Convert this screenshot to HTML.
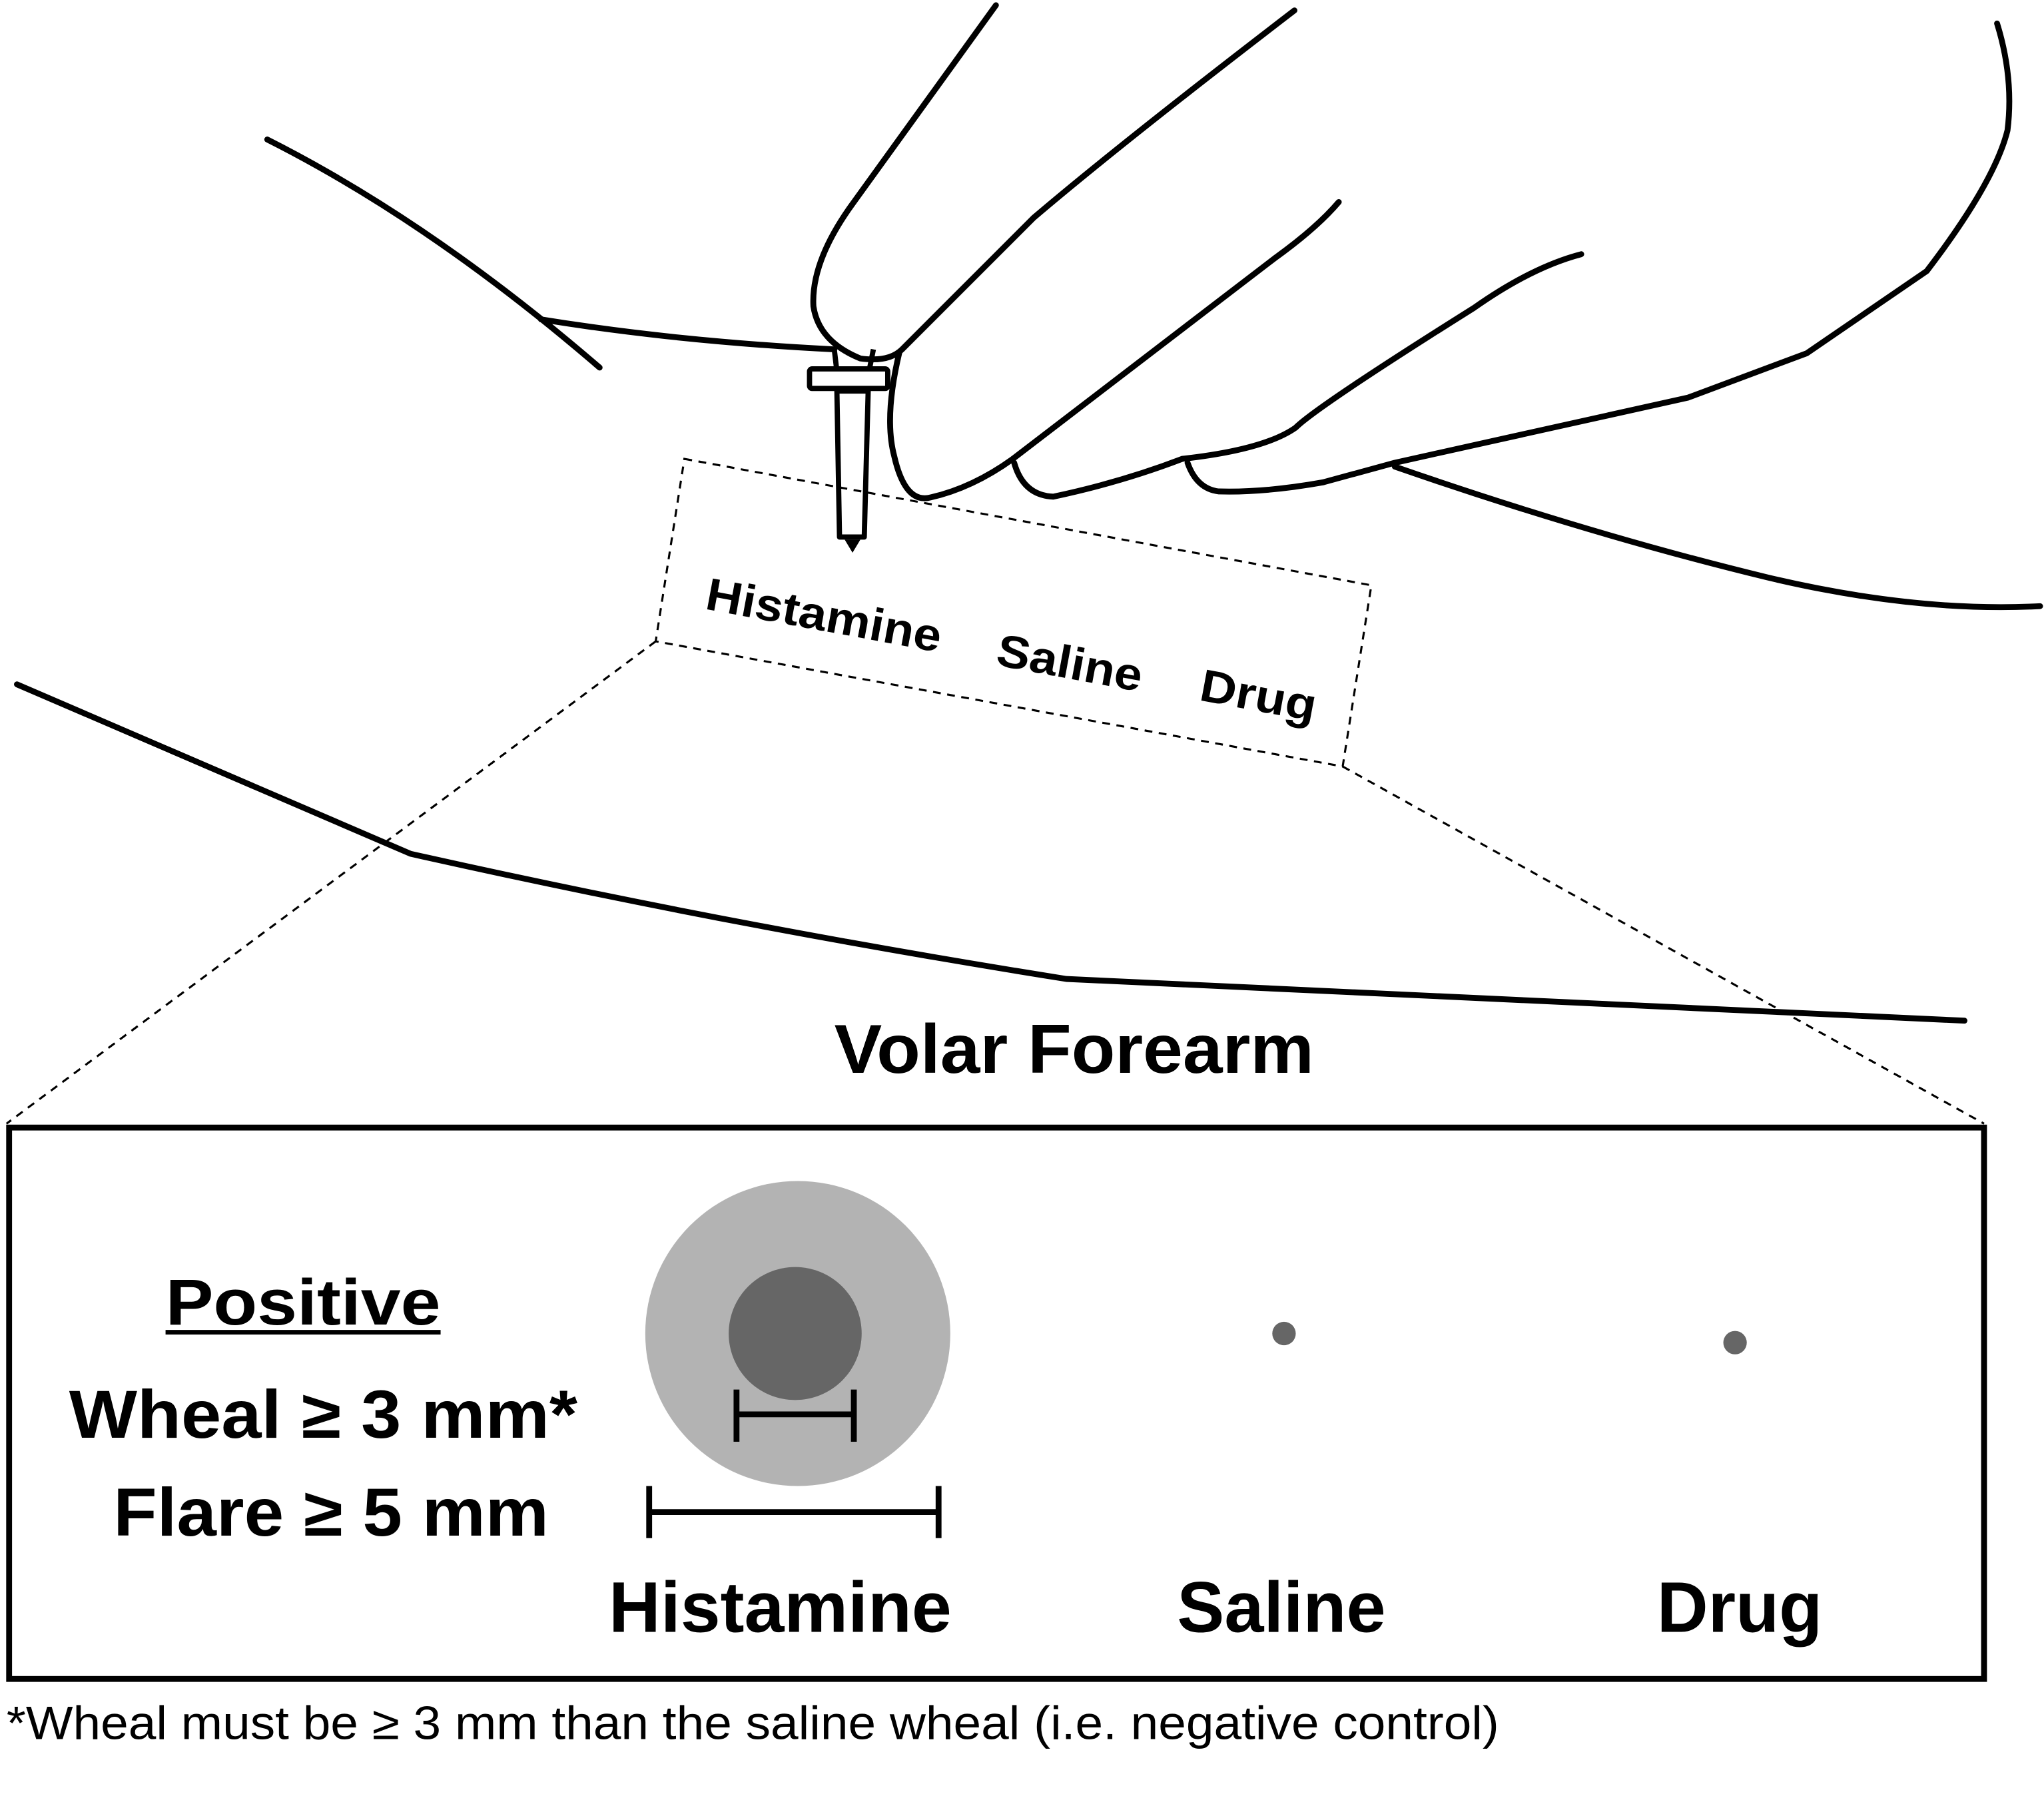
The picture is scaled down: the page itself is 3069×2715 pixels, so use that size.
<!DOCTYPE html>
<html><head><meta charset="utf-8"><style>html,body{margin:0;padding:0;background:#fff}svg{display:block}</style></head><body>
<svg width="3069" height="2715" viewBox="0 0 1568 1387" preserveAspectRatio="none" xmlns="http://www.w3.org/2000/svg" font-family="Liberation Sans, Arial, sans-serif">
<g fill="none" stroke="#000" stroke-width="4.5" stroke-linejoin="round" stroke-linecap="round">
<path d="M205,107 Q330,170 460,282"/>
<path d="M415,245 Q520,262 640,268"/>
<path d="M764,4 L655,155 Q622,200 624,235 Q628,262 660,275 Q682,278 692,268 L793,167 Q860,110 993,8"/>
<path d="M690,270 Q678,320 686,350 Q694,385 712,382 Q745,375 777,352"/>
<path d="M777,352 L978,198 Q1010,175 1027,155"/>
<path d="M778,355 Q785,380 808,381 Q860,370 907,352"/>
<path d="M907,352 Q970,345 994,328 Q1010,312 1131,236 Q1175,205 1213,195"/>
<path d="M911,355 Q918,375 935,377 Q970,378 1015,370"/>
<path d="M1015,370 L1070,355 L1295,305 L1386,271 L1478,208 Q1530,140 1540,100 Q1545,60 1532,18"/>
<path d="M1070,358 Q1220,410 1356,443 Q1470,470 1565,465"/>
<path d="M13,525 L315,655 Q560,710 818,751 L1507,783"/>
</g>
<g stroke="#000" stroke-width="4" fill="#fff" stroke-linejoin="round">
<path d="M640,268 L642,285 M667,283 L670,268" fill="none"/>
<rect x="621" y="283" width="60" height="15" rx="2"/>
<path d="M642,300 L644,412 L663,412 L666,300 Z"/>
</g>
<path d="M648,414 L660,414 L654,424 Z" fill="#000"/>
<g fill="none" stroke="#000" stroke-width="1.6" stroke-dasharray="6,5">
<path d="M525,352 L1052,449 L1030,588 L503,492 Z"/>
<path d="M503,492 L5,862"/>
<path d="M1030,588 L1522,862"/>
</g>
<g font-weight="bold" font-size="35" fill="#000">
<text transform="translate(540,467) rotate(10.5)" textLength="183" lengthAdjust="spacingAndGlyphs">Histamine</text>
<text transform="translate(763,510) rotate(10.5)" textLength="113" lengthAdjust="spacingAndGlyphs">Saline</text>
<text transform="translate(919,537) rotate(10.5)" textLength="90" lengthAdjust="spacingAndGlyphs">Drug</text>
</g>
<text x="640" y="823" font-weight="bold" font-size="53" textLength="368" lengthAdjust="spacingAndGlyphs">Volar Forearm</text>
<rect x="7" y="865" width="1515" height="423" fill="none" stroke="#000" stroke-width="4.5"/>
<circle cx="612" cy="1023" r="117" fill="#b3b3b3"/>
<circle cx="610" cy="1023" r="51" fill="#666"/>
<circle cx="985" cy="1023" r="9" fill="#666"/>
<circle cx="1331" cy="1030" r="9" fill="#666"/>
<g stroke="#000" stroke-width="4.5">
<path d="M565,1085 H655 M565,1066 V1106 M655,1066 V1106"/>
<path d="M498,1160 H720 M498,1140 V1180 M720,1140 V1180"/>
</g>
<g font-weight="bold" fill="#000" lengthAdjust="spacingAndGlyphs">
<text x="127" y="1016" font-size="50" textLength="211" lengthAdjust="spacingAndGlyphs">Positive</text>
<text x="53" y="1103" font-size="52" textLength="390" lengthAdjust="spacingAndGlyphs">Wheal ≥ 3 mm*</text>
<text x="87" y="1178" font-size="52" textLength="334" lengthAdjust="spacingAndGlyphs">Flare ≥ 5 mm</text>
<text x="467" y="1252" font-size="55" textLength="263" lengthAdjust="spacingAndGlyphs">Histamine</text>
<text x="903" y="1252" font-size="55" textLength="160" lengthAdjust="spacingAndGlyphs">Saline</text>
<text x="1271" y="1252" font-size="55" textLength="127" lengthAdjust="spacingAndGlyphs">Drug</text>
</g>
<line x1="127" y1="1022" x2="338" y2="1022" stroke="#000" stroke-width="3.5"/>
<text x="5" y="1334" font-size="36" textLength="1145" lengthAdjust="spacingAndGlyphs">*Wheal must be ≥ 3 mm than the saline wheal (i.e. negative control)</text>
</svg>
</body></html>
